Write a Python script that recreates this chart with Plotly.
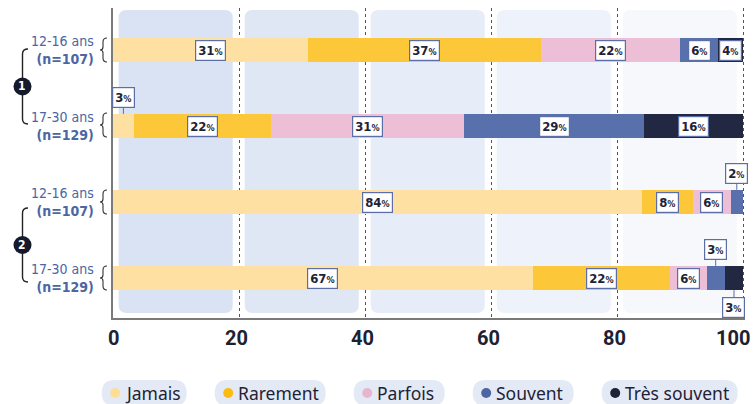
import plotly.graph_objects as go

# ---------------- data ----------------
age_groups = ["12-16 ans", "17-30 ans", "12-16 ans", "17-30 ans"]
sample_sizes = [107, 129, 107, 129]
question_ids = [1, 1, 2, 2]
categories = ["Jamais", "Rarement", "Parfois", "Souvent", "Très souvent"]
jamais = [31, 3.3, 84, 66.6]
rarement = [37, 21.8, 8, 21.8]
parfois = [22, 30.6, 6, 5.8]
souvent = [6, 28.6, 2, 2.9]
tres_souvent = [4, 15.7, 0, 2.9]
x_ticks = [0, 20, 40, 60, 80, 100]

series = [jamais, rarement, parfois, souvent, tres_souvent]
colors = ["#fee1a2", "#fdc73a", "#ecbfd7", "#5871ac", "#222742"]
legend_colors = ["#fedd95", "#fbbb10", "#e8b5cf", "#4d65a3", "#1d2238"]

FONT = "DejaVu Sans Condensed, Roboto Condensed, Roboto, sans-serif"
TICK_FONT = "Roboto, DejaVu Sans, sans-serif"
LEG_FONT = "Noto Sans, Open Sans, sans-serif"
W, H = 753, 404
ML, MR, MT, MB = 113, 8, 8, 86
PW, PH = W - ML - MR, H - MT - MB
XMAX = 100.3

def px(x):
    return (x - ML) / PW

def py(y):
    return (H - MB - y) / PH

rows = list(range(len(age_groups)))
BAR_W = 0.32

fig = go.Figure()
for name, vals, col in zip(categories, series, colors):
    fig.add_trace(go.Bar(
        x=vals, y=rows, orientation="h", name=name, width=BAR_W,
        marker=dict(color=col, line=dict(width=0)), showlegend=False,
        hoverinfo="x+name",
    ))

shapes = []
annotations = []

# background panels (rounded rectangles between gridlines)
panel_cols = ["#d9e3f3", "#e0e7f4", "#e7edf8", "#eef2fa", "#f6f8fc"]
rx, ry = 8 / (PW / XMAX), 8 / PH
y0, y1 = py(313), py(10)
for k, pc in enumerate(panel_cols):
    a, b = 20 * k + 0.9, 20 * k + 19.0
    path = (f"M {a+rx},{y0} L {b-rx},{y0} Q {b},{y0} {b},{y0+ry} "
            f"L {b},{y1-ry} Q {b},{y1} {b-rx},{y1} L {a+rx},{y1} "
            f"Q {a},{y1} {a},{y1-ry} L {a},{y0+ry} Q {a},{y0} {a+rx},{y0} Z")
    shapes.append(dict(type="path", path=path, xref="x", yref="paper",
                       fillcolor=pc, line=dict(width=0), layer="below"))

# value labels
BORDER = "#5b6ea5"
TXT = "#1d2236"
for r in rows:
    start = 0
    prev_out = False
    for vals in series:
        v = vals[r]
        if v <= 0:
            start += v
            continue
        lbl = f"<b>{round(v)}</b><span style='font-size:9px'><b>%</b></span>"
        cx = start + v / 2
        common = dict(text=lbl, xref="x", yref="y", bgcolor="white",
                      bordercolor=BORDER, borderwidth=1.2, borderpad=2,
                      font=dict(size=13, color=TXT, family=FONT))
        if v < 3.5:
            if prev_out:
                annotations.append(dict(x=cx, y=r + BAR_W / 2, showarrow=True,
                                        ax=0, ay=17, arrowhead=0, arrowwidth=1,
                                        arrowcolor=BORDER, standoff=0, **common))
                prev_out = False
            else:
                annotations.append(dict(x=cx, y=r - BAR_W / 2, showarrow=True,
                                        ax=0, ay=-16, arrowhead=0, arrowwidth=1,
                                        arrowcolor=BORDER, standoff=0, **common))
                prev_out = True
        else:
            annotations.append(dict(x=cx, y=r, showarrow=False, **common))
            prev_out = False
        start += v

# x tick labels (drawn on the x scale, last one kept inside the page)
for i, t in enumerate(x_ticks):
    last = i == len(x_ticks) - 1
    annotations.append(dict(
        x=t, y=py(338), xref="x", yref="paper", text=f"<b>{t}</b>", showarrow=False,
        xanchor="right" if last else "center", yanchor="middle",
        xshift=9 if last else (0 if t == 0 else -3),
        font=dict(size=20, color="#1c2133", family=TICK_FONT)))

# row labels + braces
LBL_COL = "#4b66a3"
for r in rows:
    annotations.append(dict(
        x=px(96), y=r, xref="paper", yref="y", xanchor="right", yanchor="middle",
        text=f"{age_groups[r]}<br><b>(n={sample_sizes[r]})</b>", showarrow=False,
        align="right", font=dict(size=14, color=LBL_COL, family=FONT)))

row_px = [50, 125, 202, 278]
for cy in row_px:
    pts = [(107, cy - 12), (103, cy - 12), (103, cy - 8), (103, cy - 3),
           (103, cy), (100, cy), (103, cy), (103, cy + 3), (103, cy + 8),
           (103, cy + 12), (107, cy + 12)]
    P = [(px(a), py(b)) for a, b in pts]
    path = (f"M {P[0][0]},{P[0][1]} Q {P[1][0]},{P[1][1]} {P[2][0]},{P[2][1]} "
            f"L {P[3][0]},{P[3][1]} Q {P[4][0]},{P[4][1]} {P[5][0]},{P[5][1]} "
            f"Q {P[6][0]},{P[6][1]} {P[7][0]},{P[7][1]} L {P[8][0]},{P[8][1]} "
            f"Q {P[9][0]},{P[9][1]} {P[10][0]},{P[10][1]}")
    shapes.append(dict(type="path", path=path, xref="paper", yref="paper",
                       line=dict(color="#333", width=1.1)))

# group brackets with numbered circles
group_spans = {1: (49, 124), 2: (208, 282)}
for g, (ta, tb) in group_spans.items():
    lx = 22.5
    path = (f"M {px(28)},{py(ta)} Q {px(lx)},{py(ta)} {px(lx)},{py(ta+5)} "
            f"L {px(lx)},{py(tb-5)} Q {px(lx)},{py(tb)} {px(28)},{py(tb)}")
    shapes.append(dict(type="path", path=path, xref="paper", yref="paper",
                       line=dict(color="#222", width=1.4)))
    cyc = (ta + tb) / 2
    shapes.append(dict(type="circle", xref="paper", yref="paper",
                       x0=px(lx - 9), x1=px(lx + 9), y0=py(cyc + 9), y1=py(cyc - 9),
                       fillcolor="#141a2c", line=dict(width=0)))
    annotations.append(dict(x=px(lx), y=py(cyc), xref="paper", yref="paper",
                            xanchor="center", yanchor="middle",
                            text=f"<b>{g}</b>", showarrow=False,
                            font=dict(size=12, color="white", family=FONT)))

# custom legend pills
pill_w = [85, 111, 91, 101, 136]
left = 101.7
for name, col, w in zip(categories, legend_colors, pill_w):
    t, b = 380, 406
    r_ = 13
    x0, x1 = left, left + w
    path = (f"M {px(x0+r_)},{py(b)} L {px(x1-r_)},{py(b)} "
            f"Q {px(x1)},{py(b)} {px(x1)},{py(b-r_)} Q {px(x1)},{py(t)} {px(x1-r_)},{py(t)} "
            f"L {px(x0+r_)},{py(t)} Q {px(x0)},{py(t)} {px(x0)},{py(t+r_)} "
            f"Q {px(x0)},{py(b)} {px(x0+r_)},{py(b)} Z")
    shapes.append(dict(type="path", path=path, xref="paper", yref="paper",
                       fillcolor="#e4eaf5", line=dict(width=0)))
    shapes.append(dict(type="circle", xref="paper", yref="paper",
                       x0=px(x0 + 8.5), x1=px(x0 + 18.5), y0=py(398), y1=py(388),
                       fillcolor=col, line=dict(width=0)))
    annotations.append(dict(x=px(x0 + 21), y=py(393), xref="paper", yref="paper",
                            xanchor="left", yanchor="middle", text=name, showarrow=False,
                            font=dict(size=17.5, color="#1e2235", family=LEG_FONT)))
    left = x1 + 28

fig.update_layout(
    width=W, height=H, barmode="stack",
    margin=dict(l=ML, r=MR, t=MT, b=MB, autoexpand=False),
    paper_bgcolor="white", plot_bgcolor="white",
    font=dict(family=FONT),
    shapes=shapes, annotations=annotations,
    xaxis=dict(range=[0, XMAX], tickvals=x_ticks, showticklabels=False,
               showgrid=True, gridcolor="#555", griddash="dot", gridwidth=1,
               showline=True, linecolor="#7a7a7a", linewidth=2, zeroline=False,
               ticks="", automargin=False, fixedrange=True),
    yaxis=dict(range=[3.526, -0.5526], showticklabels=False, showgrid=False,
               zeroline=False, showline=True, linecolor="#7a7a7a", linewidth=2,
               automargin=False, fixedrange=True),
    bargap=0,
)

fig.write_html("out.html", config={"displayModeBar": False},
               post_script="document.body.style.margin='0';document.body.style.overflow='hidden';")
